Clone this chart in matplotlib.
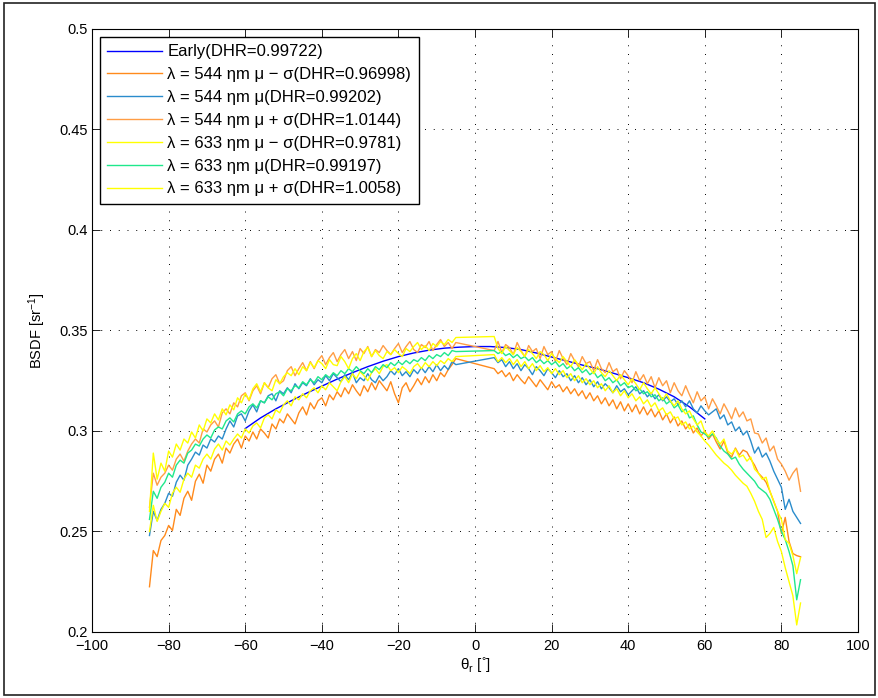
import matplotlib
matplotlib.use("Agg")
import matplotlib.pyplot as plt
from matplotlib.patches import Rectangle
import numpy as np

plt.rcParams['font.family'] = ['Liberation Sans', 'DejaVu Sans']
plt.rcParams['mathtext.default'] = 'regular'

# ---------------- data ----------------
theta_neg = list(range(-85, -4))   # -85 .. -5 deg
theta_pos = list(range(5, 86))     # 5 .. 85 deg

early_theta = [-60, -56, -52, -48, -44, -40, -36, -32, -28, -24, -20, -16, -12, -8, -4, 0,
               4, 8, 12, 16, 20, 24, 28, 32, 36, 40, 44, 48, 52, 56, 60]
early_bsdf = [0.3012, 0.3065, 0.3110, 0.3150, 0.3188, 0.3223, 0.3258, 0.3290, 0.3320, 0.3347,
              0.3370, 0.3388, 0.3402, 0.3412, 0.3417, 0.3420, 0.3420, 0.3415, 0.3405, 0.3388,
              0.3368, 0.3348, 0.3328, 0.3310, 0.3288, 0.3265, 0.3240, 0.3208, 0.3170, 0.3120, 0.3060]

# values in units of 1e-4 sr^-1
s544_minus_neg = [2225, 2405, 2375, 2455, 2480, 2530, 2505, 2610, 2580, 2665, 2700, 2655, 2750, 2785, 2740, 2830,
                  2800, 2860, 2885, 2840, 2915, 2890, 2935, 2960, 2915, 2975, 2950, 2995, 2960, 3010, 2990, 2965,
                  3035, 3010, 3060, 3040, 3085, 3060, 3035, 3090, 3120, 3080, 3140, 3110, 3150, 3165, 3125, 3180,
                  3155, 3195, 3170, 3215, 3185, 3230, 3200, 3175, 3225, 3195, 3240, 3205, 3250, 3225, 3200, 3245,
                  3185, 3140, 3215, 3240, 3195, 3225, 3260, 3230, 3270, 3240, 3280, 3250, 3290, 3270, 3305, 3330, 3360]
s544_minus_pos = [3310, 3285, 3300, 3270, 3290, 3250, 3280, 3255, 3235, 3270, 3245, 3220, 3255, 3230, 3205, 3245,
                  3215, 3230, 3195, 3220, 3185, 3210, 3175, 3200, 3160, 3190, 3150, 3175, 3135, 3165, 3125, 3155,
                  3110, 3145, 3100, 3135, 3095, 3130, 3085, 3120, 3080, 3110, 3070, 3100, 3055, 3085, 3040, 3070,
                  3025, 3050, 3010, 3035, 2990, 3015, 2975, 3000, 2960, 2985, 2945, 2910, 2950, 2890, 2870, 2915,
                  2880, 2905, 2895, 2860, 2830, 2790, 2770, 2745, 2700, 2650, 2600, 2490, 2570, 2450, 2390, 2380, 2374]

s544_mu_neg = [2480, 2600, 2555, 2610, 2640, 2690, 2675, 2745, 2780, 2755, 2830, 2860, 2895, 2880, 2930, 2915,
               2960, 2945, 2975, 2960, 3010, 3050, 3020, 3075, 3085, 3050, 3100, 3130, 3095, 3150, 3140, 3175,
               3185, 3150, 3200, 3185, 3215, 3190, 3235, 3210, 3240, 3225, 3260, 3230, 3255, 3240, 3275, 3250,
               3285, 3265, 3245, 3280, 3255, 3290, 3240, 3265, 3250, 3285, 3255, 3240, 3275, 3250, 3270, 3300,
               3280, 3310, 3275, 3295, 3270, 3305, 3285, 3315, 3290, 3320, 3295, 3330, 3300, 3325, 3305, 3345, 3330]
s544_mu_pos = [3365, 3340, 3355, 3320, 3345, 3310, 3335, 3300, 3330, 3310, 3280, 3320, 3300, 3275, 3310, 3290,
               3265, 3300, 3270, 3285, 3250, 3275, 3240, 3265, 3230, 3255, 3220, 3245, 3210, 3235, 3215, 3190,
               3225, 3195, 3210, 3180, 3200, 3220, 3185, 3200, 3170, 3190, 3160, 3180, 3150, 3170, 3145, 3160,
               3130, 3150, 3120, 3150, 3110, 3090, 3125, 3100, 3080, 3095, 3110, 3060, 3080, 3030, 3045, 3000,
               3020, 2980, 3000, 2950, 2890, 2920, 2870, 2890, 2850, 2800, 2760, 2720, 2610, 2660, 2600, 2570, 2540]

s544_plus_neg = [2620, 2790, 2730, 2770, 2790, 2830, 2805, 2860, 2885, 2850, 2900, 2935, 2960, 2940, 3010, 2995,
                 3030, 3050, 3020, 3090, 3110, 3085, 3140, 3120, 3175, 3190, 3150, 3200, 3225, 3185, 3240, 3215,
                 3260, 3280, 3235, 3250, 3300, 3320, 3275, 3310, 3340, 3300, 3345, 3310, 3350, 3375, 3330, 3365,
                 3390, 3345, 3380, 3405, 3360, 3395, 3350, 3410, 3385, 3420, 3370, 3405, 3390, 3425, 3400, 3380,
                 3410, 3435, 3390, 3420, 3445, 3405, 3390, 3430, 3415, 3445, 3400, 3430, 3455, 3420, 3440, 3410, 3440]
s544_plus_pos = [3400, 3445, 3390, 3430, 3415, 3380, 3440, 3400, 3370, 3425, 3395, 3410, 3360, 3420, 3380, 3395,
                 3345, 3400, 3360, 3330, 3385, 3350, 3320, 3370, 3335, 3345, 3300, 3355, 3310, 3290, 3340, 3295,
                 3310, 3260, 3300, 3275, 3240, 3295, 3250, 3280, 3235, 3270, 3215, 3265, 3225, 3250, 3190, 3240,
                 3200, 3175, 3225, 3180, 3140, 3195, 3150, 3170, 3110, 3160, 3125, 3085, 3135, 3100, 3060, 3115,
                 3070, 3095, 3050, 3060, 2990, 2985, 2940, 2965, 2900, 2925, 2860, 2835, 2800, 2755, 2790, 2815, 2700]

s633_minus_neg = [2500, 2630, 2550, 2600, 2640, 2620, 2690, 2720, 2695, 2760, 2790, 2770, 2830, 2815, 2860, 2885,
                  2860, 2910, 2935, 2905, 2950, 2930, 2960, 2985, 2965, 3010, 2990, 3025, 3040, 3015, 3065, 3080,
                  3060, 3105, 3090, 3130, 3150, 3125, 3170, 3155, 3185, 3165, 3200, 3215, 3190, 3225, 3205, 3240,
                  3220, 3200, 3245, 3270, 3240, 3285, 3260, 3295, 3275, 3250, 3290, 3310, 3285, 3320, 3330, 3300,
                  3315, 3290, 3320, 3305, 3285, 3320, 3335, 3310, 3340, 3320, 3345, 3325, 3350, 3335, 3360, 3345, 3370]
s633_minus_pos = [3380, 3345, 3365, 3340, 3360, 3330, 3355, 3320, 3345, 3310, 3335, 3300, 3325, 3295, 3315, 3285,
                  3310, 3280, 3300, 3265, 3285, 3250, 3275, 3240, 3260, 3230, 3250, 3215, 3235, 3200, 3225, 3190,
                  3210, 3175, 3200, 3165, 3185, 3150, 3170, 3135, 3155, 3120, 3140, 3100, 3115, 3080, 3095, 3060,
                  3070, 3030, 3045, 3010, 3025, 2995, 2975, 2950, 2930, 2905, 2880, 2860, 2840, 2825, 2805, 2780,
                  2760, 2740, 2725, 2690, 2650, 2600, 2560, 2470, 2490, 2520, 2450, 2400, 2320, 2250, 2180, 2035, 2144]

s633_mu_neg = [2560, 2700, 2665, 2720, 2745, 2790, 2770, 2830, 2855, 2840, 2890, 2905, 2935, 2925, 2960, 2980,
               2965, 3005, 3020, 3010, 3050, 3065, 3045, 3085, 3100, 3085, 3120, 3135, 3115, 3150, 3140, 3170,
               3155, 3185, 3195, 3175, 3210, 3200, 3225, 3215, 3245, 3230, 3255, 3240, 3270, 3255, 3280, 3265,
               3290, 3275, 3300, 3285, 3310, 3295, 3320, 3300, 3285, 3310, 3290, 3320, 3305, 3330, 3315, 3340,
               3325, 3345, 3330, 3350, 3335, 3355, 3345, 3365, 3350, 3375, 3360, 3380, 3370, 3390, 3375, 3400, 3395]
s633_mu_pos = [3400, 3385, 3395, 3375, 3385, 3365, 3380, 3360, 3370, 3350, 3365, 3340, 3355, 3335, 3350, 3330,
               3345, 3320, 3335, 3310, 3325, 3300, 3315, 3290, 3305, 3280, 3295, 3265, 3280, 3250, 3265, 3240,
               3255, 3225, 3240, 3215, 3225, 3200, 3210, 3185, 3195, 3170, 3180, 3150, 3165, 3135, 3150, 3115,
               3130, 3095, 3110, 3065, 3075, 3030, 2995, 2985, 2970, 2985, 2965, 2925, 2900, 2885, 2860, 2870,
               2835, 2810, 2790, 2770, 2750, 2720, 2705, 2690, 2660, 2610, 2560, 2500, 2460, 2400, 2330, 2160, 2260]

s633_plus_neg = [2600, 2890, 2760, 2840, 2800, 2900, 2870, 2935, 2905, 2960, 2940, 2995, 2965, 3030, 3000, 3060,
                 3040, 3085, 3055, 3110, 3080, 3130, 3105, 3165, 3140, 3185, 3155, 3210, 3235, 3195, 3240, 3215,
                 3200, 3255, 3235, 3270, 3290, 3275, 3310, 3280, 3320, 3300, 3340, 3315, 3350, 3335, 3310, 3355,
                 3330, 3325, 3370, 3345, 3310, 3360, 3385, 3350, 3395, 3415, 3370, 3400, 3375, 3360, 3395, 3380,
                 3405, 3385, 3370, 3410, 3395, 3420, 3440, 3405, 3425, 3400, 3435, 3420, 3445, 3430, 3455, 3440, 3465]
s633_plus_pos = [3470, 3410, 3385, 3420, 3400, 3380, 3415, 3395, 3370, 3405, 3385, 3360, 3395, 3380, 3350, 3385,
                 3360, 3340, 3370, 3345, 3320, 3355, 3330, 3305, 3335, 3310, 3285, 3320, 3290, 3270, 3300, 3275,
                 3250, 3280, 3255, 3230, 3260, 3235, 3205, 3240, 3210, 3185, 3215, 3185, 3155, 3185, 3150, 3125,
                 3150, 3110, 3085, 3100, 3060, 3030, 3050, 2995, 2975, 3000, 2960, 2935, 2960, 2900, 2885, 2910,
                 2870, 2880, 2850, 2870, 2810, 2790, 2760, 2770, 2700, 2650, 2600, 2560, 2460, 2440, 2380, 2290, 2370]

labels = ['Early(DHR=0.99722)',
          'λ = 544 ηm μ − σ(DHR=0.96998)',
          'λ = 544 ηm μ(DHR=0.99202)',
          'λ = 544 ηm μ + σ(DHR=1.0144)',
          'λ = 633 ηm μ − σ(DHR=0.9781)',
          'λ = 633 ηm μ(DHR=0.99197)',
          'λ = 633 ηm μ + σ(DHR=1.0058)']
colors = ['#0000ff', '#ff8a1c', '#2a8ccc', '#ff9d45', '#ffff00', '#1fe88c', '#ffff00']

xticks = list(range(-100, 101, 20))
yticks = [0.2, 0.25, 0.3, 0.35, 0.4, 0.45, 0.5]
ytick_labels = ['0.2', '0.25', '0.3', '0.35', '0.4', '0.45', '0.5']

# ---------------- plot ----------------
fig = plt.figure(figsize=(8.79, 6.98), dpi=100)
ax = fig.add_axes([0.1047, 0.0946, 0.8714, 0.8639])

theta_all = np.array(theta_neg + theta_pos)
series = [s544_minus_neg + s544_minus_pos,
          s544_mu_neg + s544_mu_pos,
          s544_plus_neg + s544_plus_pos,
          s633_minus_neg + s633_minus_pos,
          s633_mu_neg + s633_mu_pos,
          s633_plus_neg + s633_plus_pos]

ax.plot(early_theta, early_bsdf, color=colors[0], lw=1.0, label=labels[0])
for vals, c, lab in zip(series, colors[1:], labels[1:]):
    ax.plot(theta_all, np.array(vals) / 1e4, color=c, lw=1.0, label=lab)

ax.set_xlim(-100, 100)
ax.set_ylim(0.2, 0.5)
ax.set_xticks(xticks)
ax.set_xticklabels([str(v).replace('-', '\u2212') for v in xticks])
ax.set_yticks(yticks)
ax.set_yticklabels(ytick_labels)

tickfont = ['Liberation Sans Narrow', 'Liberation Sans', 'DejaVu Sans']
for lab in ax.get_xticklabels() + ax.get_yticklabels():
    lab.set_family(tickfont)
    lab.set_fontsize(10.5)

ax.tick_params(direction='in', length=5.5, width=0.6, top=True, right=True, pad=3)
ax.tick_params(axis='x', pad=5)
ax.grid(True, color='black', linestyle=(0, (1, 8)), linewidth=0.7)
for sp in ax.spines.values():
    sp.set_linewidth(0.8)

ax.set_xlabel('θ$_r$ [$^{\u00b0}$]', fontsize=11, family=tickfont, labelpad=2)
ax.set_ylabel('BSDF [sr$^{-1}$]', fontsize=10.5, labelpad=8)

leg = ax.legend(loc='upper left', bbox_to_anchor=(0.0104, 0.9867), borderaxespad=0,
                fontsize=12, handlelength=3.3, handletextpad=0.3, labelspacing=0.47,
                borderpad=0.45, fancybox=False, framealpha=1, edgecolor='black')
leg.get_frame().set_linewidth(1.0)

fig.patches.append(Rectangle((0.004, 0.005), 0.992, 0.99, transform=fig.transFigure,
                             fill=False, edgecolor='#222222', linewidth=1.2))

fig.savefig('out.png', dpi=100)
